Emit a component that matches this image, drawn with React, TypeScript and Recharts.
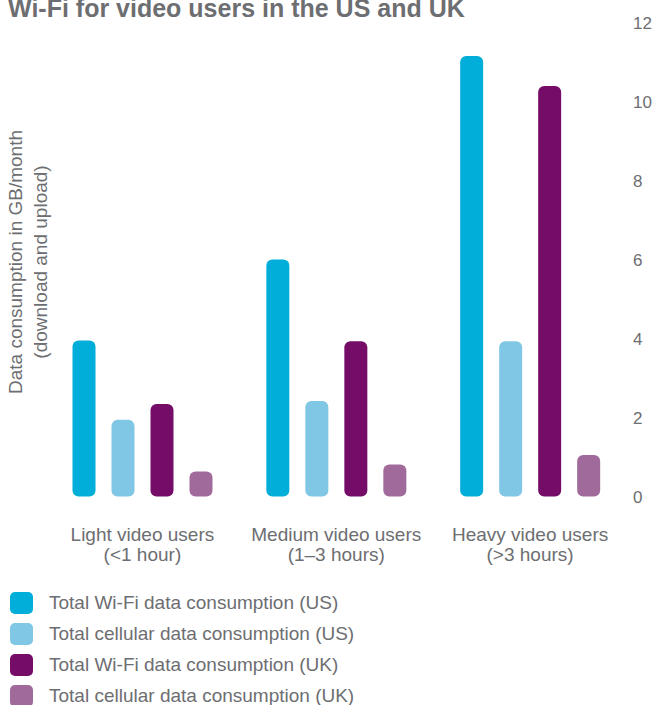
import React from "react";
import { BarChart, Bar, XAxis, YAxis } from "recharts";

const categories = ["Light video users", "Medium video users", "Heavy video users"];
const subLabels = ["(<1 hour)", "(1–3 hours)", "(>3 hours)"];

const wifiUS = [3.95, 6.0, 11.15];
const cellUS = [1.94, 2.42, 3.93];
const wifiUK = [2.34, 3.93, 10.39];
const cellUK = [0.63, 0.81, 1.05];

const yTicks = [0, 2, 4, 6, 8, 10, 12];

const seriesNames = [
    "Total Wi-Fi data consumption (US)",
    "Total cellular data consumption (US)",
    "Total Wi-Fi data consumption (UK)",
    "Total cellular data consumption (UK)",
];
const seriesColors = ["#00AED9", "#80C7E5", "#750D68", "#A06A9B"];

const FONT = '"Liberation Sans", Arial, Helvetica, sans-serif';
const GREY = "#6D6E71";

const data = categories.map((c, i) => ({
    category: c,
    sub: subLabels[i],
    wifiUS: wifiUS[i],
    cellUS: cellUS[i],
    wifiUK: wifiUK[i],
    cellUK: cellUK[i],
}));
const keys = ["wifiUS", "cellUS", "wifiUK", "cellUK"];

// two-line category label
const CategoryTick = ({ x, y, index }: any) => (
    <text x={x} y={y} textAnchor="middle" fill={GREY} fontSize={19} fontFamily={FONT}>
        <tspan x={x} dy={44.5}>{categories[index]}</tspan>
        <tspan x={x} dy={19.8}>{subLabels[index]}</tspan>
    </text>
);

export default function App() {
    return (
        <div
            style={{
                position: "absolute",
                left: 0,
                top: 0,
                width: 656,
                height: 705,
                overflow: "hidden",
                background: "#fff",
                fontFamily: FONT,
            }}
        >
            <div style={{ position: "absolute", left: 0, top: 0 }}>
                <BarChart
                    width={656}
                    height={575}
                    data={data}
                    margin={{ top: 22.5, right: 0, left: 45.5, bottom: 0 }}
                    barSize={23}
                    barGap={16}
                >
                    <XAxis
                        dataKey="category"
                        axisLine={false}
                        tickLine={false}
                        tickSize={0}
                        tickMargin={0}
                        height={78.5}
                        interval={0}
                        tick={<CategoryTick />}
                    />
                    <YAxis
                        orientation="right"
                        width={29}
                        domain={[0, 12]}
                        ticks={yTicks}
                        axisLine={false}
                        tickLine={false}
                        tickSize={0}
                        tickMargin={6}
                        tick={{ fill: GREY, fontSize: 17, fontFamily: FONT }}
                    />
                    {keys.map((k, i) => (
                        <Bar
                            key={k}
                            dataKey={k}
                            name={seriesNames[i]}
                            fill={seriesColors[i]}
                            radius={6}
                            isAnimationActive={false}
                        />
                    ))}
                </BarChart>
            </div>

            {/* title + rotated axis title */}
            <svg
                width={656}
                height={705}
                style={{ position: "absolute", left: 0, top: 0, pointerEvents: "none" }}
            >
                <text x={8} y={17} fontSize={25} fontWeight="bold" fill={GREY} fontFamily={FONT}>
                    Wi-Fi for video users in the US and UK
                </text>
                <text
                    transform="translate(22,262) rotate(-90)"
                    textAnchor="middle"
                    fontSize={19}
                    fill={GREY}
                    fontFamily={FONT}
                >
                    Data consumption in GB/month
                </text>
                <text
                    transform="translate(46.5,262) rotate(-90)"
                    textAnchor="middle"
                    fontSize={19}
                    fill={GREY}
                    fontFamily={FONT}
                >
                    (download and upload)
                </text>
            </svg>

            {/* legend */}
            {seriesNames.map((name, i) => (
                <div
                    key={name}
                    style={{
                        position: "absolute",
                        left: 10,
                        top: 592 + i * 31,
                        height: 22,
                        display: "flex",
                        alignItems: "center",
                        whiteSpace: "nowrap",
                    }}
                >
                    <div
                        style={{
                            width: 23,
                            height: 22,
                            borderRadius: 5,
                            background: seriesColors[i],
                        }}
                    />
                    <span style={{ marginLeft: 16, fontSize: 19, color: GREY }}>{name}</span>
                </div>
            ))}
        </div>
    );
}
